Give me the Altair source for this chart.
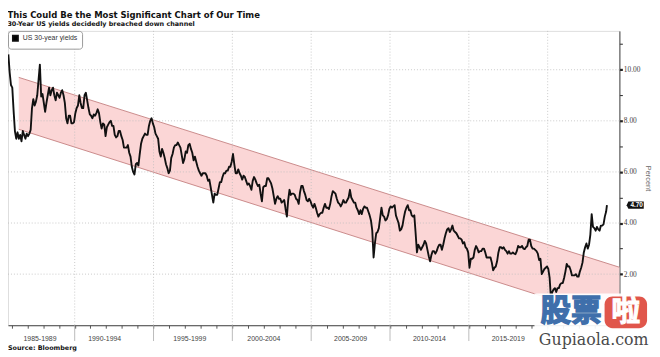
import altair as alt
import pandas as pd

TITLE = "This Could Be the Most Significant Chart of Our Time"
SUBTITLE = "30-Year US yields decidedly breached down channel"
SERIES = "US 30-year yields"
SOURCE = "Source: Bloomberg"
Y_TITLE = "Percent"

# 30-year yield, monthly readings (percent)
y1985 = [10.60, 9.90, 9.40]  # Oct-Dec
y1986 = [9.30, 8.40, 7.60, 7.30, 7.55, 7.30, 7.45, 7.20, 7.60, 7.45, 7.30, 7.50]
y1987 = [7.40, 7.50, 7.65, 8.50, 8.85, 8.60, 8.75, 9.00, 9.60, 10.20, 8.95, 9.05]
y1988 = [8.70, 8.35, 8.70, 9.00, 9.30, 9.00, 9.20, 9.30, 9.00, 8.80, 9.10, 9.00]
y1989 = [8.90, 9.10, 9.20, 9.00, 8.70, 8.10, 7.90, 8.20, 8.20, 7.90, 7.90, 7.95]
y1990 = [8.30, 8.50, 8.60, 9.00, 8.70, 8.50, 8.50, 9.00, 9.10, 8.80, 8.50, 8.25]
y1991 = [8.20, 8.10, 8.25, 8.20, 8.30, 8.45, 8.30, 7.95, 7.70, 7.90, 7.85, 7.40]
y1992 = [7.75, 7.85, 7.95, 8.00, 7.80, 7.80, 7.45, 7.35, 7.40, 7.60, 7.60, 7.40]
y1993 = [7.25, 6.95, 6.95, 6.95, 7.05, 6.75, 6.60, 6.20, 6.00, 5.90, 6.30, 6.35]
y1994 = [6.25, 6.70, 7.10, 7.30, 7.40, 7.50, 7.45, 7.45, 7.80, 8.00, 8.10, 7.90]
y1995 = [7.75, 7.50, 7.40, 7.30, 6.80, 6.60, 6.90, 6.75, 6.55, 6.30, 6.15, 5.95]
y1996 = [6.05, 6.55, 6.70, 6.95, 7.05, 7.05, 7.15, 7.05, 6.95, 6.65, 6.35, 6.50]
y1997 = [6.80, 6.75, 7.05, 7.10, 6.90, 6.75, 6.45, 6.60, 6.40, 6.20, 6.05, 5.95]
y1998 = [5.85, 5.95, 5.95, 5.95, 5.85, 5.65, 5.70, 5.40, 5.10, 4.80, 5.15, 5.10]
y1999 = [5.10, 5.35, 5.60, 5.60, 5.80, 5.95, 5.95, 6.05, 6.05, 6.20, 6.20, 6.40]
y2000 = [6.70, 6.30, 5.95, 5.95, 6.10, 5.95, 5.85, 5.70, 5.85, 5.80, 5.65, 5.50]
y2001 = [5.55, 5.45, 5.30, 5.65, 5.80, 5.70, 5.55, 5.45, 5.50, 5.15, 4.85, 5.40]
y2002 = [5.45, 5.45, 5.75, 5.75, 5.65, 5.55, 5.35, 5.05, 4.75, 4.95, 5.05, 4.95]
y2003 = [4.95, 4.80, 4.85, 4.90, 4.55, 4.25, 4.90, 5.30, 5.10, 5.15, 5.15, 5.10]
y2004 = [4.95, 4.90, 4.75, 5.20, 5.45, 5.45, 5.25, 5.10, 4.90, 4.85, 4.95, 4.85]
y2005 = [4.70, 4.60, 4.75, 4.60, 4.40, 4.25, 4.35, 4.40, 4.40, 4.60, 4.75, 4.60]
y2006 = [4.60, 4.55, 4.75, 5.05, 5.25, 5.20, 5.15, 4.95, 4.80, 4.75, 4.65, 4.75]
y2007 = [4.90, 4.80, 4.80, 4.90, 5.00, 5.30, 5.00, 4.90, 4.80, 4.80, 4.60, 4.50]
y2008 = [4.35, 4.50, 4.35, 4.55, 4.65, 4.60, 4.60, 4.45, 4.30, 4.10, 3.70, 2.65]
y2009 = [3.20, 3.60, 3.65, 3.80, 4.20, 4.60, 4.30, 4.25, 4.10, 4.15, 4.30, 4.55]
y2010 = [4.65, 4.60, 4.65, 4.70, 4.30, 4.15, 4.00, 3.70, 3.75, 3.90, 4.20, 4.45]
y2011 = [4.60, 4.70, 4.50, 4.50, 4.30, 4.25, 4.30, 3.60, 2.85, 3.15, 3.05, 2.95]
y2012 = [3.05, 3.15, 3.30, 3.20, 2.95, 2.70, 2.50, 2.75, 2.90, 2.90, 2.80, 2.90]
y2013 = [3.05, 3.15, 3.15, 2.95, 3.15, 3.40, 3.60, 3.75, 3.80, 3.65, 3.75, 3.90]
y2014 = [3.70, 3.65, 3.60, 3.50, 3.40, 3.40, 3.35, 3.20, 3.25, 3.05, 3.00, 2.85]
y2015 = [2.25, 2.60, 2.60, 2.65, 2.95, 3.10, 3.00, 2.85, 2.90, 2.90, 3.00, 3.00]
y2016 = [2.85, 2.65, 2.65, 2.65, 2.65, 2.45, 2.15, 2.25, 2.30, 2.50, 2.85, 3.05]
y2017 = [3.05, 3.00, 3.05, 2.95, 2.90, 2.80, 2.90, 2.80, 2.80, 2.85, 2.80, 2.78]
y2018 = [2.90, 3.10, 3.05, 3.05, 3.10, 3.00, 2.98, 3.05, 3.10, 3.35, 3.35, 3.10]
y2019 = [3.00, 3.00, 2.95, 2.90, 2.80, 2.55, 2.60, 2.00, 2.10, 2.20, 2.25, 2.30]
y2020 = [2.20, 1.85, 1.05, 1.30, 1.40, 1.45, 1.30, 1.45, 1.45, 1.60, 1.65, 1.65]
y2021 = [1.85, 2.10, 2.40, 2.30, 2.30, 2.15, 1.95, 1.95, 1.95, 2.00, 1.90, 1.90]
y2022 = [2.10, 2.25, 2.45, 2.85, 3.05, 3.20, 3.00, 3.15, 3.55, 4.35, 3.85, 3.80]
y2023 = [3.70, 3.85, 3.75, 3.70, 3.90, 3.90, 3.95, 4.25, 4.45]  # Jan-Sep
last_date = 2023.76
last_value = 4.70

yearly = [(1985, 10, y1985), (1986, 1, y1986), (1987, 1, y1987), (1988, 1, y1988),
          (1989, 1, y1989), (1990, 1, y1990), (1991, 1, y1991), (1992, 1, y1992),
          (1993, 1, y1993), (1994, 1, y1994), (1995, 1, y1995), (1996, 1, y1996),
          (1997, 1, y1997), (1998, 1, y1998), (1999, 1, y1999), (2000, 1, y2000),
          (2001, 1, y2001), (2002, 1, y2002), (2003, 1, y2003), (2004, 1, y2004),
          (2005, 1, y2005), (2006, 1, y2006), (2007, 1, y2007), (2008, 1, y2008),
          (2009, 1, y2009), (2010, 1, y2010), (2011, 1, y2011), (2012, 1, y2012),
          (2013, 1, y2013), (2014, 1, y2014), (2015, 1, y2015), (2016, 1, y2016),
          (2017, 1, y2017), (2018, 1, y2018), (2019, 1, y2019), (2020, 1, y2020),
          (2021, 1, y2021), (2022, 1, y2022), (2023, 1, y2023)]

# down channel
channel_t = [1986.45, 2024.55]
channel_upper = [9.70, 2.27]
channel_lower = [7.67, 0.17]

# axes
x_domain = [1985.77, 2024.55]
y_domain = [0, 11.52]
period_starts = [1990, 1995, 2000, 2005, 2010, 2015, 2020]
period_labels = ["1985-1989", "1990-1994", "1995-1999", "2000-2004", "2005-2009", "2010-2014", "2015-2019"]
period_label_t = [1987.8, 1991.9, 1997.3, 2002.0, 2007.5, 2012.5, 2017.5]
year_ticks = list(range(1986, 2025))
y_ticks = list(range(1, 12))
y_grid = [2, 4, 6, 8, 10]

rows = []
for yr, m0, vals in yearly:
    for i, v in enumerate(vals):
        rows.append({"t": yr + (m0 + i - 0.5) / 12.0, "v": v, "s": SERIES})
rows.append({"t": last_date, "v": last_value, "s": SERIES})
df = pd.DataFrame(rows)

band_df = pd.DataFrame({"t": channel_t, "v": channel_upper, "v2": channel_lower})
W, H = 619, 298

xscale = alt.Scale(domain=x_domain, nice=False, zero=False)
yscale = alt.Scale(domain=y_domain, nice=False)
xaxis = alt.Axis(values=year_ticks, labels=False, ticks=True, tickSize=3, tickColor="#555",
                 domainColor="#444", grid=False, title=None)
yaxis = alt.Axis(orient="right", values=y_ticks,
                 labelExpr="datum.value % 2 == 0 ? format(datum.value, '.2f') : ''",
                 tickSize=3, tickColor="#222",
                 tickWidth={"condition": {"test": "datum.value % 2 == 0", "value": 2.2}, "value": 1},
                 grid=False, domainColor="#444", labelFont="Liberation Serif", labelFontSize=7.5,
                 labelColor="#444", labelPadding=1, title=Y_TITLE, titleFont="Liberation Sans",
                 titleFontSize=7.5, titleFontWeight="normal", titleColor="#666", titlePadding=4)

X = alt.X("t:Q", scale=xscale, axis=xaxis)
Y = alt.Y("v:Q", scale=yscale, axis=yaxis)

band = alt.Chart(band_df).mark_area(color="#fbd6d6").encode(x=X, y=Y, y2="v2:Q")
upper = alt.Chart(band_df).mark_line(color="#c47f7f", strokeWidth=0.9).encode(x=X, y=Y)
lower = alt.Chart(band_df).mark_line(color="#c47f7f", strokeWidth=0.9).encode(
    x=X, y=alt.Y("v2:Q", scale=yscale, axis=yaxis))

hgrid = alt.Chart(pd.DataFrame({"v": y_grid})).mark_rule(
    color="#bdbdbd", strokeDash=[1, 2], strokeWidth=0.8).encode(y=Y)
vgrid = alt.Chart(pd.DataFrame({"t": period_starts})).mark_rule(
    color="#bdbdbd", strokeDash=[1, 2], strokeWidth=0.8).encode(x=X)
seps = alt.Chart(pd.DataFrame({"t": period_starts})).mark_rule(
    color="#aaa", strokeWidth=0.8).encode(x=X, y=alt.value(H), y2=alt.value(H + 16))

line = alt.Chart(df).mark_line(strokeWidth=1.9, strokeJoin="round").encode(
    x=X, y=Y,
    color=alt.Color("s:N", scale=alt.Scale(domain=[SERIES], range=["#111"]),
                    legend=alt.Legend(title=None, orient="none", legendX=0, legendY=0,
                                      symbolType="square", symbolFillColor="#000",
                                      symbolStrokeColor="#000", symbolSize=30,
                                      labelFont="Liberation Sans", labelFontSize=7,
                                      labelColor="#333", strokeColor="#999", fillColor="#fff",
                                      cornerRadius=3, padding=4)))

xlabels = alt.Chart(pd.DataFrame({"t": period_label_t, "lab": period_labels})).mark_text(
    font="Liberation Sans", fontSize=7, color="#444", baseline="alphabetic").encode(
    x=X, y=alt.value(H + 16), text="lab:N")

source = alt.Chart(pd.DataFrame({"s": [SOURCE]})).mark_text(
    font="DejaVu Sans", fontSize=6.5, fontWeight="bold", color="#111", align="left",
    baseline="alphabetic").encode(x=alt.value(0), y=alt.value(H + 25), text="s:N")

last_df = pd.DataFrame({"v": [last_value], "lab": [f"{last_value:.2f}"]})
tag_shape = "M-1,0L-0.8,-0.42L1,-0.42L1,0.42L-0.8,0.42Z"
tag = alt.Chart(last_df).mark_point(shape=tag_shape, filled=True, color="#111", opacity=1,
                                    size=300).encode(x=alt.value(W + 16), y=Y)
tag_txt = alt.Chart(last_df).mark_text(font="Liberation Sans", fontSize=6.5, fontWeight="bold",
                                       color="#fff", baseline="middle").encode(
    x=alt.value(W + 17.5), y=Y, text="lab:N")

# watermark
one = pd.DataFrame({"k": [0]})
wm_bg = alt.Chart(one).mark_rect(color="#fff", opacity=0.92).encode(
    x=alt.value(533), x2=alt.value(652), y=alt.value(266), y2=alt.value(330))
wm_cn = alt.Chart(one).mark_text(text="股票", font="Noto Sans CJK SC", fontSize=31,
                                 fontWeight="bold", color="#3f6fab", stroke="#3f6fab",
                                 strokeWidth=1.4, baseline="middle").encode(
    x=alt.value(570), y=alt.value(285))
wm_box = alt.Chart(one).mark_rect(color="#e0564b", cornerRadius=8).encode(
    x=alt.value(604), x2=alt.value(647), y=alt.value(269), y2=alt.value(301))
wm_la = alt.Chart(one).mark_text(text="啦", font="Noto Sans CJK SC", fontSize=29,
                                 fontWeight="bold", color="#fff", stroke="#fff", strokeWidth=1,
                                 baseline="middle").encode(
    x=alt.value(625.5), y=alt.value(285))
wm_en = alt.Chart(one).mark_text(text="Gupiaola.com", font="DejaVu Serif", fontSize=16,
                                 color="#4a4a4a", baseline="alphabetic").encode(
    x=alt.value(593), y=alt.value(318))

chart = alt.layer(
    band, upper, lower, hgrid, vgrid, seps, line, xlabels, source, tag, tag_txt,
    wm_bg, wm_cn, wm_box, wm_la, wm_en
).properties(
    width=W, height=H,
    title=alt.TitleParams(text=TITLE, subtitle=SUBTITLE, anchor="start", font="DejaVu Sans",
                          fontSize=8.6, fontWeight="bold", color="#111",
                          subtitleFont="DejaVu Sans", subtitleFontSize=6.5,
                          subtitleFontWeight="bold", subtitleColor="#111",
                          subtitlePadding=1, offset=3),
    autosize=alt.AutoSizeParams(type="none"),
    padding={"left": 0, "top": 21, "right": 33, "bottom": 30},
).configure_view(stroke=None).configure(background="#ffffff")

chart.save("out.html", embed_options={"renderer": "svg", "actions": False})
